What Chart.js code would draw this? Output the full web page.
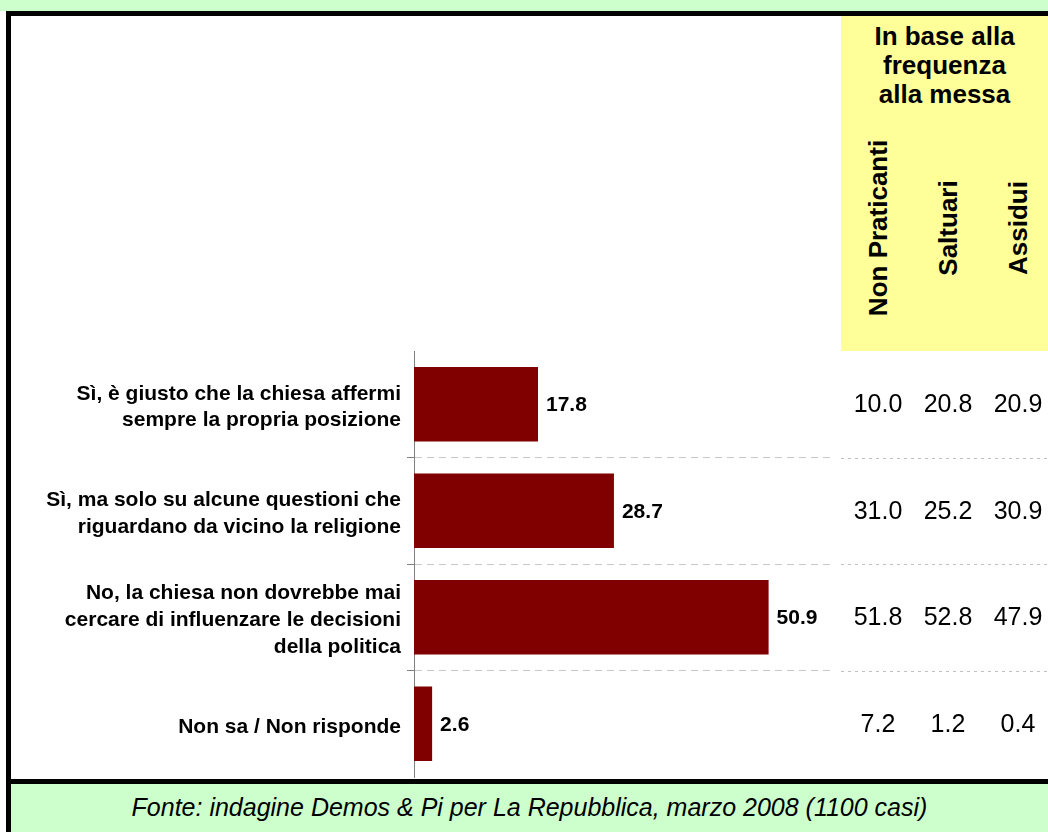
<!DOCTYPE html>
<html>
<head>
<meta charset="utf-8">
<script src="https://cdn.jsdelivr.net/npm/chart.js@4"></script>
<style>
  body { margin: 0; background: #fff; font-family: "Liberation Sans", Arial, sans-serif; }
  #page { position: relative; width: 1048px; height: 832px; overflow: hidden; }
  .blk { position: absolute; }
  #topGreen { left: 0; top: 0; width: 1048px; height: 11px; background: #CCFFCC; }
  #topLine { left: 6px; top: 11px; width: 1042px; height: 5px; background: #000; }
  #leftLine { left: 6px; top: 11px; width: 5px; height: 821px; background: #000; }
  #bottomLine { left: 6px; top: 779px; width: 1042px; height: 5px; background: #000; }
  #footer { left: 11px; top: 784px; width: 1037px; height: 46px; background: #CCFFCC;
    font-style: italic; font-size: 25px; line-height: 46px; text-align: center; color: #000; }
  #footer { height: 48px; }
  #yellow { left: 841px; top: 16px; width: 207px; height: 335px; background: #FFFF99; }
  #head { left: 841px; top: 22px; width: 207px; text-align: center; font-weight: bold;
    font-size: 26px; line-height: 29px; color: #000; }
  .rot { position: absolute; top: 228px; font-weight: bold; font-size: 26px; white-space: nowrap;
    transform: translate(-50%, -50%) rotate(-90deg); color: #000; }
  canvas { position: absolute; left: 0; top: 0; }
</style>
</head>
<body>
<div id="page">
  <div class="blk" id="topGreen"></div>
  <div class="blk" id="yellow"></div>
  <div class="blk" id="topLine"></div>
  <div class="blk" id="bottomLine"></div>
  <div class="blk" id="footer">Fonte: indagine Demos &amp; Pi per La Repubblica, marzo 2008 (1100 casi)</div>
  <div class="blk" id="leftLine"></div>
  <div class="blk" id="head">In base alla<br>frequenza<br>alla messa</div>
  <div class="rot" style="left:878px">Non Praticanti</div>
  <div class="rot" style="left:948px">Saltuari</div>
  <div class="rot" style="left:1018px">Assidui</div>
  <canvas id="chart" width="1048" height="832"></canvas>
</div>
<script>
const categories = [
    ['Sì, è giusto che la chiesa affermi', 'sempre la propria posizione'],
    ['Sì, ma solo su alcune questioni che', 'riguardano da vicino la religione'],
    ['No, la chiesa non dovrebbe mai', 'cercare di influenzare le decisioni', 'della politica'],
    'Non sa / Non risponde'
];
const totale = [17.8, 28.7, 50.9, 2.6];
const nonPraticanti = [10.0, 31.0, 51.8, 7.2];
const saltuari = [20.8, 25.2, 52.8, 1.2];
const assidui = [20.9, 30.9, 47.9, 0.4];

const FONT = '"Liberation Sans", Arial, sans-serif';

// value labels next to bars + the side table and its dotted lines
const extras = {
    id: 'extras',
    afterDatasetsDraw(chart) {
        const c = chart.ctx;
        const meta = chart.getDatasetMeta(0);
        const ys = chart.scales.y;
        c.save();
        c.fillStyle = '#000';
        c.textBaseline = 'middle';

        c.font = 'bold 21px ' + FONT;
        c.textAlign = 'left';
        meta.data.forEach((bar, i) => {
            c.fillText(totale[i].toFixed(1), bar.x + 8, bar.y + 1);
        });

        c.font = '25px ' + FONT;
        c.textAlign = 'center';
        const cols = [[nonPraticanti, 878], [saltuari, 948], [assidui, 1018]];
        meta.data.forEach((bar, i) => {
            cols.forEach(([arr, x]) => c.fillText(arr[i].toFixed(1), x, bar.y + 1));
        });

        // dotted separators in table area
        c.strokeStyle = '#C0C0C0';
        c.lineWidth = 1;
        c.setLineDash([3, 4]);
        for (let i = 0; i < categories.length - 1; i++) {
            const y = Math.round((ys.getPixelForValue(i) + ys.getPixelForValue(i + 1)) / 2) + 0.5;
            c.beginPath();
            c.moveTo(841, y);
            c.lineTo(1048, y);
            c.stroke();
        }
        c.restore();
    }
};

new Chart(document.getElementById('chart'), {
    type: 'bar',
    data: {
        labels: categories,
        datasets: [{
            data: totale,
            backgroundColor: '#800000',
            barPercentage: 0.7,
            categoryPercentage: 1
        }]
    },
    options: {
        indexAxis: 'y',
        responsive: false,
        animation: false,
        layout: {
            padding: { top: 351, bottom: 55, left: 0, right: 216 }
        },
        scales: {
            x: {
                display: false,
                min: 0,
                max: 60
            },
            y: {
                afterFit(scale) { scale.width = 414; },
                ticks: {
                    color: '#000',
                    padding: 6,
                    labelOffset: 3,
                    font: { family: FONT, size: 21, weight: 'bold', lineHeight: 1.28 }
                },
                grid: {
                    offset: true,
                    tickLength: 7,
                    color: ctx => (ctx.type === 'tick' && ctx.index > 0) ? '#C8C8C8' : 'rgba(0,0,0,0)',
                    tickColor: ctx => (ctx.type === 'tick' && ctx.index > 0) ? '#808080' : 'rgba(0,0,0,0)'
                },
                border: {
                    color: '#808080',
                    width: 1,
                    dash: [7, 5]
                }
            }
        },
        plugins: {
            legend: { display: false },
            tooltip: { enabled: false }
        }
    },
    plugins: [extras]
});
</script>
</body>
</html>
